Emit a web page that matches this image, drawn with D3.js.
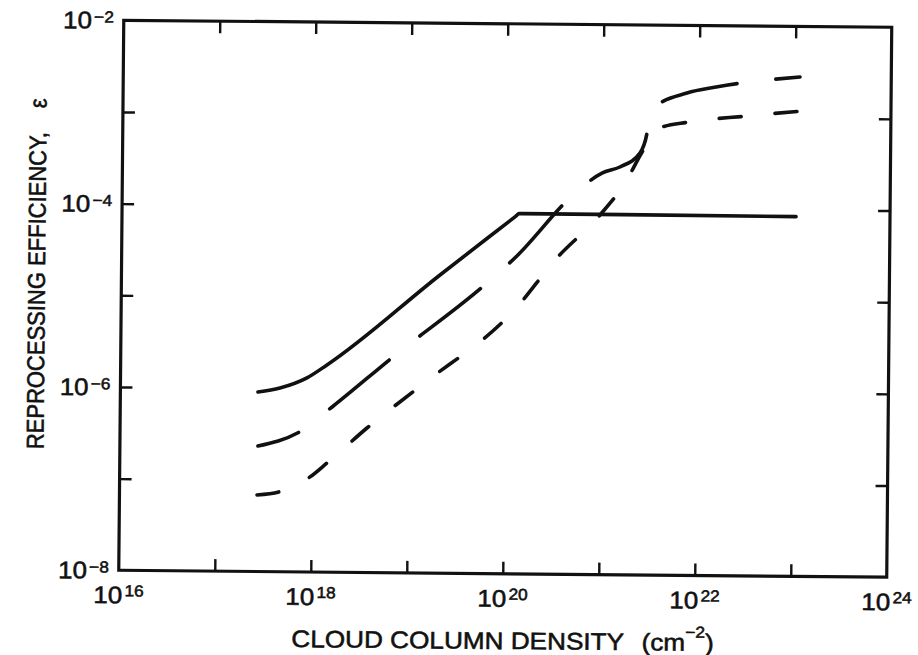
<!DOCTYPE html>
<html>
<head>
<meta charset="utf-8">
<script src="https://cdn.jsdelivr.net/npm/d3@7"></script>
<style>
  body { margin: 0; background: #fff; }
  text { font-family: "Liberation Sans", Arial, Helvetica, sans-serif; fill: #111; stroke: #111; stroke-width: 0.55px; }
</style>
</head>
<body>
<div class="chart"></div>
<script>
// Values
// x: cloud column density (cm^-2), y: reprocessing efficiency
var solidDensity = [2.71e17, 4.59e17, 8.75e17, 1.41e18, 2.08e19, 1.26e20, 1.37e20, 1.48e20, 1.05e23]
var solidEff     = [9.08e-7, 1.01e-6, 1.31e-6, 1.82e-6, 1.79e-5, 7.94e-5, 8.51e-5, 8.51e-5, 8.4e-5]

var longDensity = [2.74e17, 7.67e17, 1.61e18, 6.85e18, 6.43e19, 1.31e20, 4.85e20, 9.9e20,
                   1.52e21, 2.45e21, 2.89e21, 3.09e21, 3.48e21, 7.48e21, 1.50e22, 1.12e23]
var longEff     = [2.34e-7, 3.44e-7, 6.34e-7, 2.26e-6, 1.48e-5, 2.94e-5, 1.34e-4, 2.40e-4,
                   2.81e-4, 4.01e-4, 6.64e-4, 1.13e-3, 1.28e-3, 1.83e-3, 2.14e-3, 2.81e-3]

var shortDensity = [2.71e17, 4.93e17, 9.62e17, 1.44e18, 3.73e18, 1.29e19, 1.33e20, 3.35e20,
                    9.53e20, 1.72e21, 2.58e21, 3.67e21, 7.91e21, 3.17e22, 1.13e23]
var shortEff     = [6.84e-8, 7.60e-8, 1.09e-7, 1.55e-7, 3.77e-7, 1.07e-6, 8.15e-6, 2.75e-5,
                    8.38e-5, 1.88e-4, 4.11e-4, 7.36e-4, 8.83e-4, 1.04e-3, 1.19e-3]

var xTickExp  = [17, 18, 19, 20, 21, 22, 23]
var yTickExp  = [-7, -6, -5, -4, -3]
var xLabelExp = [16, 18, 20, 22, 24]
var yLabelExp = [-8, -6, -4, -2]

var svg_width = 918
var svg_height = 655

var margin = { top: 23.75, left: 121.25 }
var width = 768
var height = 550

var svg = d3.select(".chart")
  .append("svg")
  .attr("width", svg_width)
  .attr("height", svg_height)

// the scan is turned a little, so the whole figure is too
var tilt = svg.append("g")
  .attr("transform", "rotate(0.52, 505.25, 298.75)")

var svgGroup = tilt.append("g")
  .attr("transform", `translate(${margin.left}, ${margin.top})`)

var xScale = d3.scaleLog().domain([1e16, 1e24]).range([0, width])
var yScale = d3.scaleLog().domain([1e-8, 1e-2]).range([height, 0])

var xTicks = xTickExp.map(e => Math.pow(10, e))
var yTicks = yTickExp.map(e => Math.pow(10, e))

// inward ticks on all four sides
function tickAxis(axis, tx, ty) {
  var g = svgGroup.append("g")
    .attr("transform", `translate(${tx},${ty})`)
    .call(axis.tickSize(-12).tickFormat(""))
  g.select(".domain").remove()
  g.selectAll("line").attr("stroke", "#111").attr("stroke-width", 2.4)
}
tickAxis(d3.axisBottom(xScale).tickValues(xTicks), 0, height)
tickAxis(d3.axisTop(xScale).tickValues(xTicks), 0, 0)
tickAxis(d3.axisLeft(yScale).tickValues(yTicks), 0, 0)
tickAxis(d3.axisRight(yScale).tickValues(yTicks), width, 0)

// frame
svgGroup.append("rect")
  .attr("width", width)
  .attr("height", height)
  .attr("fill", "none")
  .attr("stroke", "#111")
  .attr("stroke-width", 3.2)

// tick labels "10^n"
xLabelExp.forEach(function(e) {
  var t = svgGroup.append("text")
    .attr("transform", `translate(${xScale(Math.pow(10, e))},${height + 33}) scale(1.08,1)`)
    .attr("text-anchor", "middle")
    .style("font-size", "24px")
  t.append("tspan").text("10")
  t.append("tspan").attr("dx", 2).attr("dy", -7).style("font-size", "16px").text(e)
})

yLabelExp.forEach(function(e) {
  var t = svgGroup.append("text")
    .attr("transform", `translate(-10,${yScale(Math.pow(10, e)) + 8.5}) scale(1.08,1)`)
    .attr("text-anchor", "end")
    .style("font-size", "24px")
  t.append("tspan").text("10")
  t.append("tspan").attr("dx", 2).attr("dy", -6).style("font-size", "16px").text("\u2212" + Math.abs(e))
})

// curves
var line = d3.line()
  .x(d => xScale(d[0]))
  .y(d => yScale(d[1]))
  .curve(d3.curveMonotoneX)

function drawCurve(xs, ys, dash, offset) {
  svgGroup.append("path")
    .datum(d3.zip(xs, ys))
    .attr("d", line)
    .attr("fill", "none")
    .attr("stroke", "#111")
    .attr("stroke-width", 3.6)
    .attr("stroke-linecap", "round")
    .attr("stroke-dasharray", dash)
    .attr("stroke-dashoffset", offset)
}
drawCurve(solidDensity, solidEff, null, 0)
drawCurve(longDensity, longEff, "77,39", 34)
drawCurve(shortDensity, shortEff, "22,34", 0)

// axis titles
var xTitle = svgGroup.append("text")
  .attr("transform", `translate(384.4,625.3) scale(1.09,1)`)
  .attr("text-anchor", "middle")
  .style("font-size", "24px")
xTitle.append("tspan").text("CLOUD COLUMN DENSITY")
xTitle.append("tspan").attr("dx", 16).text("(cm")
xTitle.append("tspan").attr("dy", -13).style("font-size", "16px").text("\u22122")
xTitle.append("tspan").attr("dy", 13).text(")")

var yTitle = svgGroup.append("text")
  .attr("transform", `translate(${44.8 - margin.left},${278 - margin.top}) scale(1.1,1) rotate(-90)`)
  .attr("text-anchor", "middle")
  .style("font-size", "22px")
yTitle.append("tspan").text("REPROCESSING EFFICIENCY,")
yTitle.append("tspan").attr("dx", 24).text("\u03b5")
</script>
</body>
</html>
